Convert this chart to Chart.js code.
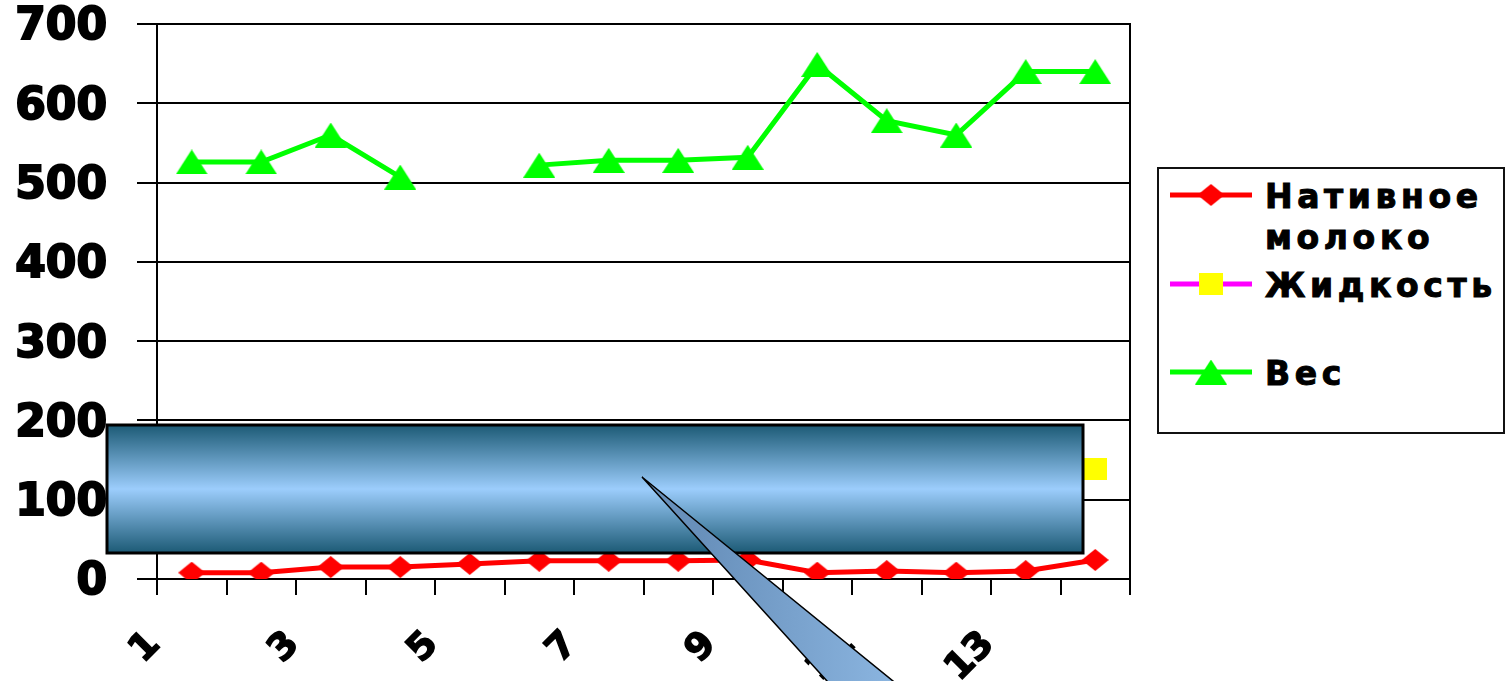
<!DOCTYPE html>
<html>
<head>
<meta charset="utf-8">
<script src="https://cdn.jsdelivr.net/npm/chart.js@4.4.1/dist/chart.umd.min.js"></script>
<style>
  html, body { margin: 0; padding: 0; background: #fff; }
  #wrap { position: relative; width: 1506px; height: 681px; overflow: hidden; }
  #legend {
    position: absolute; left: 1157px; top: 167px; width: 348px; height: 267px;
    box-sizing: border-box; border: 2px solid #111; background: #fff;
    font: bold 33px "DejaVu Sans"; letter-spacing: 4.6px; color: #000;
    -webkit-text-stroke: 1px #000;
  }
  .item { position: absolute; left: 0; width: 100%; }
  .sym { position: absolute; left: 11px; top: 4px; }
  .txt { position: absolute; left: 106px; top: 0; width: 240px; line-height: 41px; }
</style>
</head>
<body>
<div id="wrap">
  <canvas id="c" width="1506" height="681"></canvas>
  <div id="legend"></div>
</div>
<script>
// Day numbers along the x axis
const categories = ['1', '2', '3', '4', '5', '6', '7', '8', '9', '10', '11', '12', '13', '14'];
// Series values
const nativeMilk = [8, 8, 15, 15, 19, 23, 23, 23, 24, 8, 10, 8, 10, 24];
const liquid = [96, 102, 110, 108, 118, 121, 124, 126, 128, 118, 124, 126, 132, 139];
const weight = [526, 526, 560, 507, null, 522, 528, 528, 532, 649, 578, 560, 640, 640];
const seriesNames = ['Нативное молоко', 'Жидкость', 'Вес'];
// Y axis range
const yMin = 0, yMax = 700, yStep = 100;

// Marker images (Excel-style markers centred on their box)
function markerCanvas(kind, color) {
  const c = document.createElement('canvas');
  const size = kind === 'diamond' ? [27, 22] : kind === 'square' ? [24, 22] : [32, 25];
  c.width = size[0]; c.height = size[1];
  const g = c.getContext('2d');
  const w = size[0], h = size[1];
  g.fillStyle = color;
  g.beginPath();
  if (kind === 'diamond') {
    g.moveTo(0, h / 2); g.lineTo(w / 2, 0); g.lineTo(w, h / 2); g.lineTo(w / 2, h);
  } else if (kind === 'square') {
    g.rect(0, 0, w, h);
  } else {
    g.moveTo(w / 2, 0); g.lineTo(w, h); g.lineTo(0, h);
  }
  g.closePath();
  g.fill();
  return c;
}

const diamond = markerCanvas('diamond', '#ff0000');
const square = markerCanvas('square', '#ffff00');
const triangle = markerCanvas('triangle', '#00ff00');

const fontFamily = '"DejaVu Sans", "Liberation Sans", sans-serif';

// Blue callout shape laid over the lower part of the chart
const calloutPlugin = {
  id: 'callout',
  afterDraw(chart) {
    const ctx = chart.ctx;
    ctx.save();
    const bx = 107, by = 425, bw = 976, bh = 128;
    const grad = ctx.createLinearGradient(0, by, 0, by + bh);
    grad.addColorStop(0, '#1c5a75');
    grad.addColorStop(0.5, '#9ccdfc');
    grad.addColorStop(1, '#1c5a75');
    ctx.fillStyle = grad;
    ctx.fillRect(bx, by, bw, bh);
    ctx.lineWidth = 3;
    ctx.strokeStyle = '#000';
    ctx.strokeRect(bx, by, bw, bh);

    // pointer wedge
    const ax = 642, ay = 477;
    const lx = 827, rx = 893, ey = 681;
    const ext = 30;
    const lxe = lx + (lx - ax) / (ey - ay) * ext;
    const rxe = rx + (rx - ax) / (ey - ay) * ext;
    const wg = ctx.createLinearGradient(700, 0, 890, 0);
    wg.addColorStop(0, '#6890bb');
    wg.addColorStop(1, '#8ab4df');
    ctx.beginPath();
    ctx.moveTo(ax, ay);
    ctx.lineTo(rxe, ey + ext);
    ctx.lineTo(lxe, ey + ext);
    ctx.closePath();
    ctx.fillStyle = wg;
    ctx.fill();
    ctx.lineWidth = 1.5;
    ctx.strokeStyle = '#000';
    ctx.stroke();
    ctx.restore();
  }
};

const chart = new Chart(document.getElementById('c'), {
  type: 'line',
  data: {
    labels: categories,
    datasets: [
      { label: seriesNames[0], data: nativeMilk, borderColor: '#ff0000', backgroundColor: '#ff0000',
        borderWidth: 5, pointStyle: diamond, lineColor: '#ff0000', marker: diamond },
      { label: seriesNames[1], data: liquid, borderColor: '#ff00ff', backgroundColor: '#ffff00',
        borderWidth: 5, pointStyle: square, lineColor: '#ff00ff', marker: square },
      { label: seriesNames[2], data: weight, borderColor: '#00ff00', backgroundColor: '#00ff00',
        borderWidth: 5, pointStyle: triangle, lineColor: '#00ff00', marker: triangle }
    ]
  },
  options: {
    responsive: false,
    animation: false,
    events: [],
    layout: { padding: { top: 24, right: 376, left: 0, bottom: 0 } },
    elements: { line: { tension: 0 }, point: { radius: 12 } },
    plugins: { legend: { display: false }, tooltip: { enabled: false } },
    scales: {
      x: {
        offset: true,
        grid: { offset: true, drawOnChartArea: false, drawTicks: true, tickLength: 16, color: '#000', lineWidth: 2 },
        border: { display: true, color: '#000', width: 2 },
        ticks: {
          autoSkip: false, maxRotation: 45, minRotation: 45, padding: 28, labelOffset: -37,
          color: '#000', textStrokeColor: '#000', textStrokeWidth: 1.5,
          font: { family: fontFamily, weight: 'bold', size: 37 },
          callback: (v, i) => (i % 2 === 0 ? categories[i] : '')
        },
        afterFit(s) { s.height = 102; s.paddingLeft = 0; s.paddingRight = 0; }
      },
      y: {
        min: yMin, max: yMax,
        grid: { color: '#000', lineWidth: 2, tickLength: 20 },
        border: { color: '#000', width: 2 },
        ticks: { stepSize: yStep, padding: 30, color: '#000', labelOffset: 4,
                 textStrokeColor: '#000', textStrokeWidth: 2,
                 font: { family: fontFamily, weight: 'bold', size: 44, lineHeight: 1 } },
        afterFit(s) { s.width = 157; s.paddingTop = 0; s.paddingBottom = 0; }
      },
      yr: {
        position: 'right', min: yMin, max: yMax,
        grid: { drawOnChartArea: false, drawTicks: false },
        border: { display: true, color: '#000', width: 2 },
        ticks: { display: false },
        afterFit(s) { s.width = 0; s.paddingTop = 0; s.paddingBottom = 0; }
      }
    }
  },
  plugins: [calloutPlugin]
});

// Legend built from the chart's datasets
const legend = document.getElementById('legend');
chart.data.datasets.forEach((ds, i) => {
  const item = document.createElement('div');
  item.className = 'item';
  item.style.top = (7 + i * 88.5) + 'px';
  const sym = document.createElement('canvas');
  sym.className = 'sym';
  sym.width = 84; sym.height = 30;
  const g = sym.getContext('2d');
  g.strokeStyle = ds.lineColor;
  g.lineWidth = 5;
  g.beginPath(); g.moveTo(0, 15); g.lineTo(82, 15); g.stroke();
  g.drawImage(ds.marker, 41 - ds.marker.width / 2, 15 - ds.marker.height / 2);
  const txt = document.createElement('div');
  txt.className = 'txt';
  txt.textContent = ds.label;
  item.appendChild(sym);
  item.appendChild(txt);
  legend.appendChild(item);
});
</script>
</body>
</html>
